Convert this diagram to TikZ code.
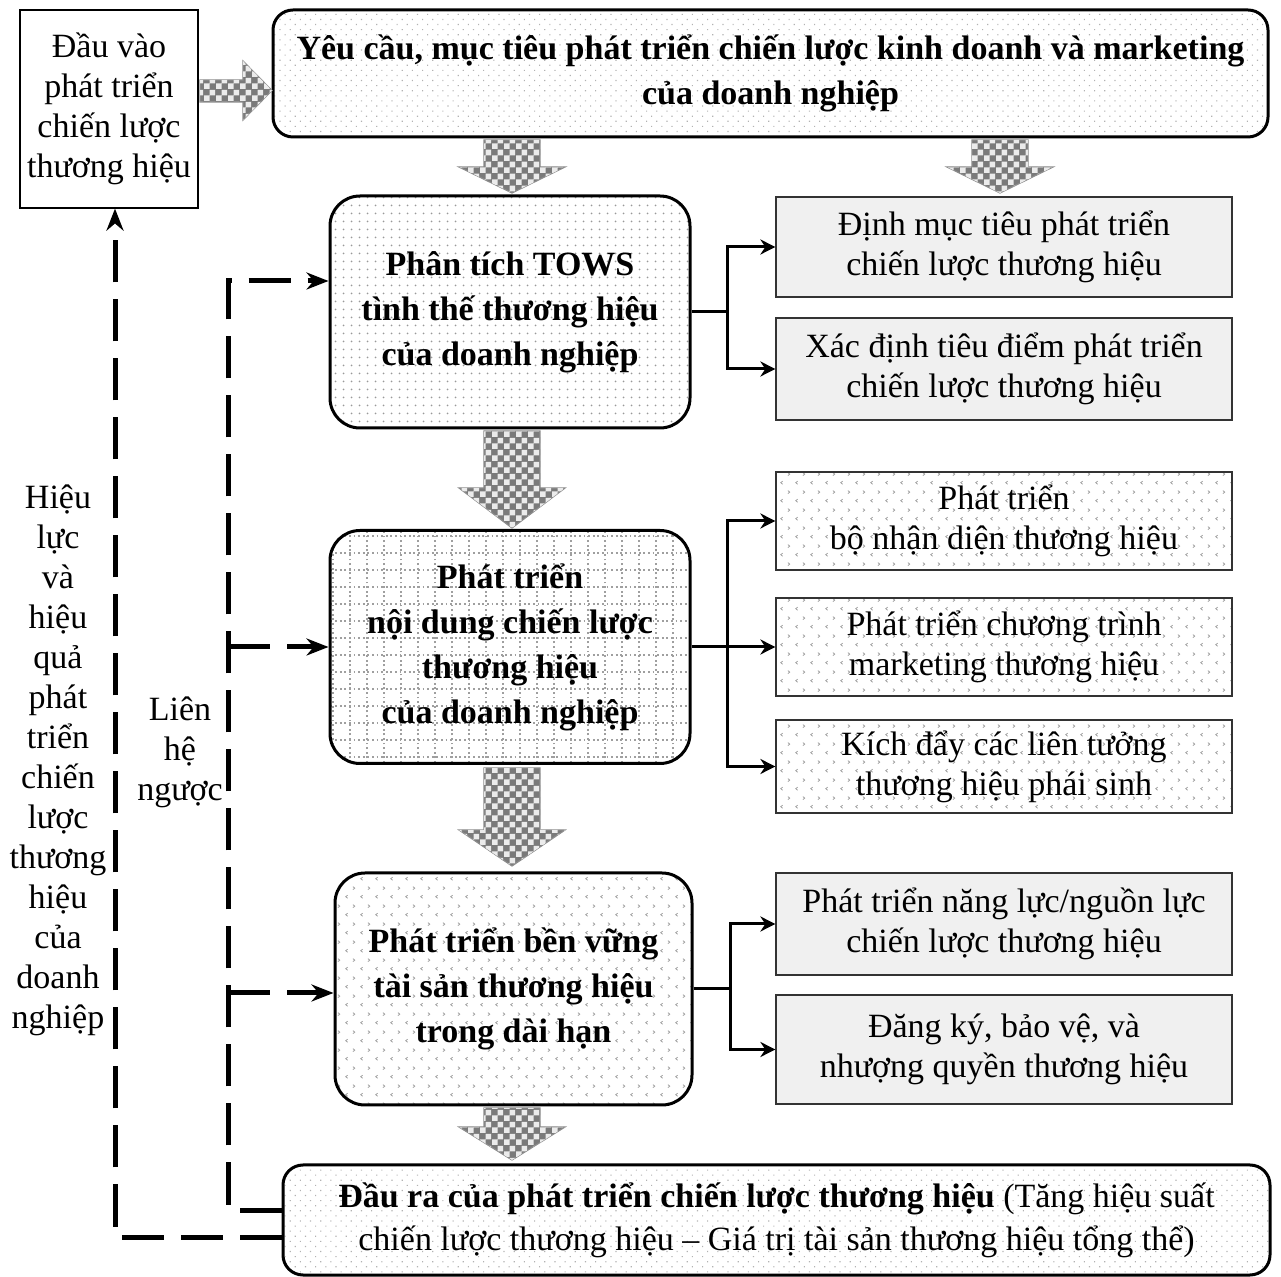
\documentclass[tikz,border=0pt]{standalone}
\usepackage{fontspec}
\setmainfont{Liberation Serif}
\usetikzlibrary{arrows.meta,patterns,patterns.meta,calc}

% checkered fill for the broad flow arrows
\pgfdeclarepatternformonly{tilecheck}{\pgfpointorigin}{\pgfqpoint{6pt}{6pt}}{\pgfqpoint{6pt}{6pt}}{%
  \pgfpathrectangle{\pgfpointorigin}{\pgfqpoint{3pt}{3pt}}%
  \pgfpathrectangle{\pgfqpoint{3pt}{3pt}}{\pgfqpoint{3pt}{3pt}}%
  \pgfusepath{fill}}
% small < and > marks
\pgfdeclarepatternformonly{chevrons}{\pgfpointorigin}{\pgfqpoint{7.5pt}{9pt}}{\pgfqpoint{7.5pt}{9pt}}{%
  \pgfsetlinewidth{0.4pt}%
  \pgfpathmoveto{\pgfqpoint{1.4pt}{2.0pt}}\pgfpathlineto{\pgfqpoint{0.4pt}{1.2pt}}\pgfpathlineto{\pgfqpoint{1.4pt}{0.4pt}}%
  \pgfpathmoveto{\pgfqpoint{4.2pt}{6.5pt}}\pgfpathlineto{\pgfqpoint{5.2pt}{5.7pt}}\pgfpathlineto{\pgfqpoint{4.2pt}{4.9pt}}%
  \pgfusepath{stroke}}

% broad downward arrow: centre x, top y, head base y, tip y
\newcommand{\flowdown}[4]{%
  \draw[blk] (#1-28,#2) -- (#1+28,#2) -- (#1+28,#3) -- (#1+53,#3) -- (#1,#4)
     -- (#1-53,#3) -- (#1-28,#3) -- cycle;}

\begin{document}
\begin{tikzpicture}[x=0.5pt,y=-0.5pt,
  base/.style={font=\fontsize{17}{20}\selectfont, align=center, inner sep=0pt},
  bold/.style={align=center, inner sep=0pt, font=\fontsize{17}{22.5}\selectfont\bfseries},
  stage/.style={bold, draw, line width=1.5pt, rounded corners=15pt},
  dotfill/.style={pattern={Dots[distance=4pt, radius=0.55pt]}, pattern color=gray!80},
  lightdots/.style={pattern={Dots[distance=3.6pt, radius=0.4pt, angle=45]}, pattern color=gray!60},
  chevfill/.style={pattern=chevrons, pattern color=gray!75},
  gridfill/.style={path picture={\draw[gray!75, line width=0.7pt, dash pattern=on 0.9pt off 1.4pt]
      ([xshift=-2pt,yshift=-2pt]path picture bounding box.south west) grid[step=8.5pt]
      (path picture bounding box.north east);}},
  task/.style={base, draw=black!80, line width=0.6pt, minimum width=228pt},
  graytask/.style={task, fill=gray!12},
  blk/.style={fill=black!52, draw=black!45, line width=0.6pt,
      postaction={pattern=tilecheck, pattern color=white!92!black}},
  conn/.style={line width=1.5pt, -{Stealth[length=7.5pt,width=7.5pt]}},
  fb/.style={line width=2.5pt, dash pattern=on 21pt off 8.5pt},
  fbtip/.style={-{Stealth[length=11pt,width=8.5pt]}}
]
\useasboundingbox (0,0) rectangle (1281,1277);

% input box and top goal box
\node[base, draw, line width=0.6pt, minimum width=89pt, minimum height=99pt] (in) at (109,109)
  {Đầu vào\\phát triển\\chiến lược\\thương hiệu};
\node[bold, draw, line width=1.5pt, rounded corners=10pt, lightdots,
  minimum width=497.5pt, minimum height=63.5pt] (goal) at (770.5,73.5)
  {Yêu cầu, mục tiêu phát triển chiến lược kinh doanh và marketing\\của doanh nghiệp};

% three stages
\node[stage, dotfill, minimum width=180pt, minimum height=116pt] (b2) at (510,312)
  {Phân tích TOWS\\tình thế thương hiệu\\của doanh nghiệp};
\node[stage, gridfill, minimum width=180pt, minimum height=116.5pt] (b3) at (510,647)
  {Phát triển\\nội dung chiến lược\\thương hiệu\\của doanh nghiệp};
\node[stage, chevfill, minimum width=178.5pt, minimum height=116pt] (b4) at (513.5,989)
  {Phát triển bền vững\\tài sản thương hiệu\\trong dài hạn};

% output box
\node[base, draw, line width=1.5pt, rounded corners=10pt, lightdots,
  minimum width=493.5pt, minimum height=55pt, font=\fontsize{17}{21.5}\selectfont] (out) at (776.5,1220)
  {\textbf{Đầu ra của phát triển chiến lược thương hiệu} (Tăng hiệu suất\\chiến lược thương hiệu -- Giá trị tài sản thương hiệu tổng thể)};

% task boxes on the right
\node[graytask, minimum height=50pt] (r1) at (1004,247) {Định mục tiêu phát triển\\chiến lược thương hiệu};
\node[graytask, minimum height=51pt] (r2) at (1004,369) {Xác định tiêu điểm phát triển\\chiến lược thương hiệu};
\node[task, chevfill, minimum height=49pt] (r3) at (1004,521) {Phát triển\\bộ nhận diện thương hiệu};
\node[task, chevfill, minimum height=49pt] (r4) at (1004,647) {Phát triển chương trình\\marketing thương hiệu};
\node[task, chevfill, minimum height=46.5pt] (r5) at (1004,766.5) {Kích đẩy các liên tưởng\\thương hiệu phái sinh};
\node[graytask, minimum height=51pt] (r6) at (1004,924) {Phát triển năng lực/nguồn lực\\chiến lược thương hiệu};
\node[graytask, minimum height=54.5pt] (r7) at (1004,1049.5) {Đăng ký, bảo vệ, và\\nhượng quyền thương hiệu};

% side labels
\node[base] (eff) at (58,760)
  {Hiệu\\lực\\và\\hiệu\\quả\\phát\\triển\\chiến\\lược\\thương\\hiệu\\của\\doanh\\nghiệp};
\node[base] (back) at (180,752) {Liên\\hệ\\ngược};

% broad flow arrows
\draw[blk] (200,80) -- (243,80) -- (243,61) -- (272,90.5) -- (243,120) -- (243,102) -- (200,102) -- cycle;
\flowdown{512}{140}{167}{193}
\flowdown{1000}{140}{167}{193}
\flowdown{512}{431}{488}{528}
\flowdown{512}{768}{830}{866}
\flowdown{512}{1108}{1127}{1160}

% branching connectors
\coordinate (f1) at (727,312);
\coordinate (f2) at (727,647);
\coordinate (f3) at (730,989);
\draw[conn] (b2.east) -- (f1) |- (r1.west);
\draw[conn] (f1) |- (r2.west);
\draw[conn] (b3.east) -- (f2) |- (r3.west);
\draw[conn] (f2) -- (r4.west);
\draw[conn] (f2) |- (r5.west);
\draw[conn] (b4.east) -- (f3) |- (r6.west);
\draw[conn] (f3) |- (r7.west);

% feedback loops
\coordinate (fbbot) at (228,1210);
\coordinate (fbtop) at (228,281);
\coordinate (fbm1) at (228,647);
\coordinate (fbm2) at (228,993);
\coordinate (obot) at (115,1237);
\draw[fb, fbtip] (out.west |- fbbot) -- (fbbot) -- (fbtop) -- (fbtop -| b2.west);
\draw[fb, fbtip] (fbm1) -- (b3.west);
\draw[fb, fbtip] (fbm2) -- (fbm2 -| b4.west);
\draw[fb, fbtip] (out.west |- obot) -- (obot) -- (obot |- in.south);
\end{tikzpicture}
\end{document}
